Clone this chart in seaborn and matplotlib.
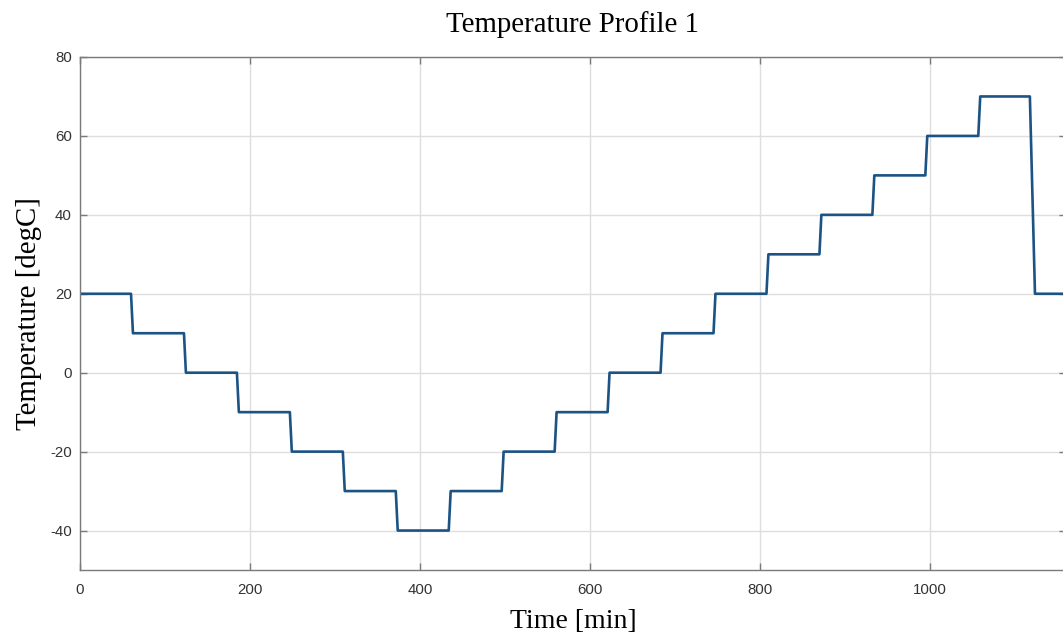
import matplotlib
matplotlib.use("Agg")
import matplotlib.pyplot as plt
import seaborn as sns
import pandas as pd

time_min = [0, 60, 62.3, 122.3, 124.6, 184.6, 186.9, 246.9, 249.2, 309.2, 311.5,
            371.5, 373.8, 433.8, 436.1, 496.1, 498.4, 558.4, 560.7, 620.7, 623.0,
            683.0, 685.3, 745.3, 747.6, 807.6, 809.9, 869.9, 872.2, 932.2, 934.5,
            994.5, 996.8, 1056.8, 1059.1, 1117.5, 1123.5, 1160]
temp_degc = [20, 20, 10, 10, 0, 0, -10, -10, -20, -20, -30, -30, -40, -40, -30, -30,
             -20, -20, -10, -10, 0, 0, 10, 10, 20, 20, 30, 30, 40, 40, 50, 50,
             60, 60, 70, 70, 20, 20]
x_ticks = [0, 200, 400, 600, 800, 1000]
y_ticks = [-40, -20, 0, 20, 40, 60, 80]

sns.set_theme(style="whitegrid")
plt.rcParams['font.family'] = ['Liberation Sans', 'DejaVu Sans']
plt.rcParams['axes.unicode_minus'] = False

df = pd.DataFrame({"Time": time_min, "Temp": temp_degc})

fig = plt.figure(figsize=(10.63, 6.37), dpi=100)
ax = fig.add_axes([80/1063, 67/637, 986/1063, 513/637])
sns.lineplot(data=df, x="Time", y="Temp", ax=ax, estimator=None, sort=False,
             color="#1b5384", linewidth=1.9)

ax.set_xlim(0, 1160)
ax.set_ylim(-50, 80)
ax.set_xticks(x_ticks)
ax.set_yticks(y_ticks)
ax.grid(True, color="#dedede", linewidth=1.0)
for s in ax.spines.values():
    s.set_color("#7a7a7a")
    s.set_linewidth(1.0)
ax.tick_params(direction="in", length=5, width=1.0, color="#7a7a7a",
               labelsize=10.8, labelcolor="#333333", top=True, right=True,
               bottom=True, left=True, labeltop=False, labelright=False)
ax.tick_params(axis="x", pad=9)
ax.tick_params(axis="y", pad=6)

serif = ['Liberation Serif', 'DejaVu Serif']
ax.set_title("Temperature Profile 1", family=serif, fontsize=20.8, color="black", pad=18)
ax.set_xlabel("Time [min]", family=serif, fontsize=20, color="black", labelpad=9)
ax.set_ylabel("Temperature [degC]", family=serif, fontsize=20.8, color="black", labelpad=6)

fig.savefig("out.png", dpi=100)
